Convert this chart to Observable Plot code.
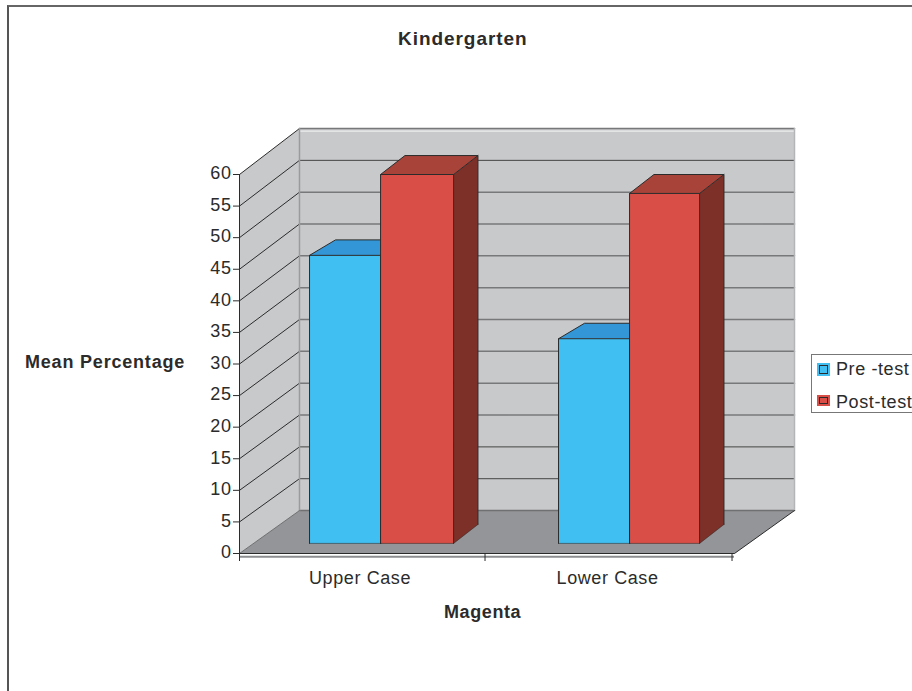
<!DOCTYPE html>
<html><head><meta charset="utf-8">
<script src="https://cdn.jsdelivr.net/npm/d3@7"></script>
<script src="https://cdn.jsdelivr.net/npm/@observablehq/plot@0.6"></script>
<style>
html,body{margin:0;padding:0;background:#fff;width:912px;height:691px;overflow:hidden;font-family:"Liberation Sans",Arial,sans-serif;color:#2b2b2b}
#frame{position:absolute;left:7px;top:5px;width:1000px;height:800px;border-left:2px solid #555;border-top:2px solid #666}
#chart{position:absolute;left:0;top:0}
.t{position:absolute;white-space:nowrap;font-weight:bold;font-size:18px;letter-spacing:.8px}
#legend{position:absolute;left:811px;top:354px;width:200px;height:59px;border:1px solid #777;box-sizing:border-box;background:#fff;font-size:18px;letter-spacing:.6px}
#legend div{position:absolute;left:24px;white-space:nowrap;line-height:20px}
#legend i{position:absolute;left:5px;box-sizing:border-box}
</style></head><body>
<div id="frame"></div>
<div id="chart"></div>
<div class="t" id="title" style="left:398px;top:28px;font-size:19px;letter-spacing:.95px">Kindergarten</div>
<div class="t" id="ylab" style="left:25px;top:352px">Mean Percentage</div>
<div class="t" id="xlab" style="left:444px;top:602px;letter-spacing:.6px">Magenta</div>
<div id="legend"></div>
<script>
const categories = ["Upper Case", "Lower Case"];
const seriesNames = ["Pre -test", "Post-test"];
const preTest = [45.6, 32.4];
const postTest = [58.4, 55.4];
const yTicks = [0,5,10,15,20,25,30,35,40,45,50,55,60];
const darkGrid = [55,10,5];
const softGrid = [60,50,45,40,35,30,25,20,15];

const frontColors = ["#40BFF2", "#D94F47"];
const topColors = ["#3396D6", "#A8433A"];
const sideColors = ["#2E7FA8", "#7D3028"];
const ink = "#2b2b2b";

// Oblique projection of the 3D chart box into the x (category) and y (value) scales.
const wall = (c, v) => ({x: c + 0.2424, y: v * 1.008 + 6.8});
const slots = [[0.283, 0.570, 0.865], [1.289, 1.576, 1.859]];
const barBase = 1.6, barDX = [0.105, 0.0985], barDY = [2.45, 3.0];
const front = (c, v) => ({x: c, y: v + barBase});
const back = (c, v, s) => ({x: c + barDX[s], y: v + barBase + barDY[s]});

const face = (pts, fill, stroke = "none", strokeWidth = 1) =>
  Plot.line(pts, {x: "x", y: "y", fill, stroke, strokeWidth, curve: "linear-closed"});
const edge = (pts, stroke = ink, strokeWidth = 1, strokeOpacity = 1) =>
  Plot.line(pts, {x: "x", y: "y", stroke, strokeWidth, strokeOpacity});

const marks = [];
// walls and floor
marks.push(face([wall(0,0), wall(2,0), wall(2,60), wall(0,60)], "#C8C9CB"));
marks.push(face([{x:0,y:0}, wall(0,0), wall(0,60), {x:0,y:60}], "#C8C9CB"));
marks.push(face([{x:0,y:0}, {x:2,y:0}, wall(2,0), wall(0,0)], "#949598"));
// back-wall and side-wall gridlines
softGrid.forEach(v => marks.push(edge([wall(0,v), wall(2,v)], "#77787A", 1.5)));
darkGrid.forEach(v => marks.push(edge([wall(0,v), wall(2,v)], "#444", 1)));
marks.push(edge([wall(0,59.6), wall(2,59.6)], "#eceded", 1.2));
yTicks.filter(v => v > 0).forEach(v => marks.push(edge([{x:0,y:v}, wall(0,v)], ink, 1)));
marks.push(edge([wall(0,0), wall(2,0)], "#6f7072", 1.5));
marks.push(edge([wall(0,0), wall(0,60)], "#9a9b9d", 1.5));
marks.push(edge([wall(2,0), wall(2,60)], "#b4b5b7", 1.5));
marks.push(edge([{x:0,y:0}, wall(0,0)], "#6f7072", 1));
marks.push(edge([{x:2,y:0}, wall(2,0)], ink, 1));
marks.push(Plot.ruleY([-0.5], {x1: 0, x2: 2, stroke: "#8d8e90", strokeWidth: 2}));

// bars
categories.forEach((_, i) => {
  [preTest, postTest].forEach((vals, s) => {
    const a = slots[i][s], b = slots[i][s + 1], v = vals[i];
    marks.push(face([front(b,0), back(b,0,s), back(b,v,s), front(b,v)], sideColors[s]));
    marks.push(face([front(a,v), front(b,v), back(b,v,s), back(a,v,s)], topColors[s]));
    marks.push(face([front(a,0), front(b,0), front(b,v), front(a,v)], frontColors[s]));
    marks.push(edge([front(a,0), front(b,0), back(b,0,s)], ink, 1, 0.55));
    marks.push(edge([back(b,0,s), back(b,v,s), back(a,v,s), front(a,v)], ink, 1));
    marks.push(edge([front(a,0), front(a,v), front(b,v), front(b,0)], ink, 1));
    marks.push(edge([front(b,v), back(b,v,s)], ink, 1));
  });
});

// axes
marks.push(Plot.ruleY([0], {x1: 0, x2: 2, stroke: ink, strokeWidth: 1}));
marks.push(Plot.ruleX([0], {y1: 0, y2: 60, stroke: ink, strokeWidth: 1}));
marks.push(Plot.axisY({ticks: yTicks, tickSize: 6, tickFormat: () => "", label: null}));
marks.push(Plot.axisY({ticks: yTicks, tickSize: 0, tickPadding: 8, dy: -1, fontSize: 18, label: null, style: {letterSpacing: "1.2px"}}));
marks.push(Plot.axisX({ticks: [0,0.992,1.99], tickSize: 8, tickPadding: 0, tickFormat: () => "", label: null}));
marks.push(Plot.text(categories, {x: (d,i) => i + 0.487, y: 0, dy: 25, text: d => d, fontSize: 18}));

const chart = Plot.plot({
  width: 912, height: 691,
  marginLeft: 239, marginRight: 178, marginTop: 174, marginBottom: 138,
  x: {domain: [0, 2]},
  y: {domain: [0, 60]},
  style: {fontFamily: "Liberation Sans", letterSpacing: "0.6px", color: ink, background: "transparent", overflow: "visible"},
  marks
});
document.getElementById("chart").append(chart);

// legend
const legend = document.getElementById("legend");
seriesNames.forEach((name, s) => {
  const sw = document.createElement("i");
  sw.style.cssText = `top:${s===0?8:40}px;width:13px;height:${s===0?13:11}px;background:${frontColors[s]};border:2px solid ${frontColors[s]};outline:1px solid ${ink};outline-offset:-3px`;
  legend.append(sw);
  const t = document.createElement("div");
  t.textContent = name;
  t.style.top = (s===0 ? 4 : 37) + "px";
  legend.append(t);
});
</script></body></html>
